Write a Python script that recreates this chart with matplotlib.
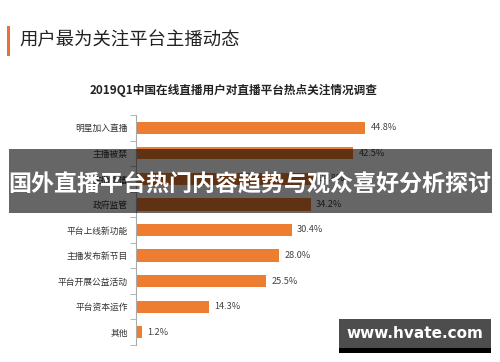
import matplotlib.pyplot as plt
from matplotlib.patches import Rectangle
import numpy as np

plt.rcParams['font.family'] = ['Noto Sans CJK SC', 'DejaVu Sans']

# data (top to bottom)
categories = ['明星加入直播', '主播被禁', '主播跳槽', '政府监管', '平台上线新功能',
              '主播发布新节目', '平台开展公益活动', '平台资本运作', '其他']
values = [44.8, 42.5, 34.8, 34.2, 30.4, 28.0, 25.5, 14.3, 1.2]

page_title = '用户最为关注平台主播动态'
chart_title = '2019Q1中国在线直播用户对直播平台热点关注情况调查'
banner = '国外直播平台热门内容趋势与观众喜好分析探讨'
watermark = 'www.hvate.com'

W, H = 500, 362
fig = plt.figure(figsize=(W / 100, H / 100), dpi=100)
fig.patch.set_facecolor('white')

def fx(px):
    return px / W

def fy(py):
    return 1 - py / H

# page header with orange marker
fig.patches.append(Rectangle((fx(7), fy(56)), fx(3), 30 / H, transform=fig.transFigure,
                             facecolor='#e8703a', lw=0, zorder=1))
fig.text(fx(19), fy(40), page_title, fontsize=13.2, color='#222222', va='center', ha='left')

fig.text(fx(234), fy(90), chart_title, fontsize=8.4, fontweight='bold', color='#222222',
         va='center', ha='center')

# bar chart
ax = fig.add_axes([fx(136), fy(345), fx(466) - fx(136), (345 - 115) / H])
y = np.arange(len(categories))
ax.barh(y, values, height=0.48, color='#ed7d31', zorder=2)
for yi, v in zip(y, values):
    ax.text(v + 1.0, yi, '%.1f%%' % v, va='center', ha='left', fontsize=6.6, color='#444444')
ax.set_xlim(0, 64.5)
ax.set_ylim(len(categories) - 0.5, -0.5)
ax.set_yticks(y)
ax.set_yticklabels(categories, fontsize=6.3, color='#333333')
ax.tick_params(axis='y', which='major', length=0, pad=6)
ax.set_yticks(np.arange(-0.5, len(categories), 1), minor=True)
ax.tick_params(axis='y', which='minor', length=4, color='#aaaaaa', direction='out')
ax.set_xticks([])
for s in ['top', 'right', 'bottom']:
    ax.spines[s].set_visible(False)
ax.spines['left'].set_color('#aaaaaa')
ax.spines['left'].set_linewidth(0.8)

# overlay banner
fig.patches.append(Rectangle((fx(9), fy(213)), fx(492) - fx(9), (213 - 149) / H,
                             transform=fig.transFigure, facecolor='black', lw=0,
                             alpha=0.6, zorder=10))
fig.text(fx(250), fy(185), banner, fontsize=16.6, fontweight='bold', color='white',
         va='center', ha='center', zorder=11)

# watermark box
fig.patches.append(Rectangle((fx(339), fy(353)), fx(491) - fx(339), (353 - 319) / H,
                             transform=fig.transFigure, facecolor='#4d4d4d', lw=0, zorder=10))
fig.patches.append(Rectangle((fx(339), fy(353)), fx(491) - fx(339), 5 / H,
                             transform=fig.transFigure, facecolor='black', lw=0, zorder=11))
fig.text(fx(415), fy(334), watermark, fontsize=11, fontweight='bold', color='white',
         family='DejaVu Sans', va='center', ha='center', zorder=12)

fig.savefig('out.png', dpi=100)
